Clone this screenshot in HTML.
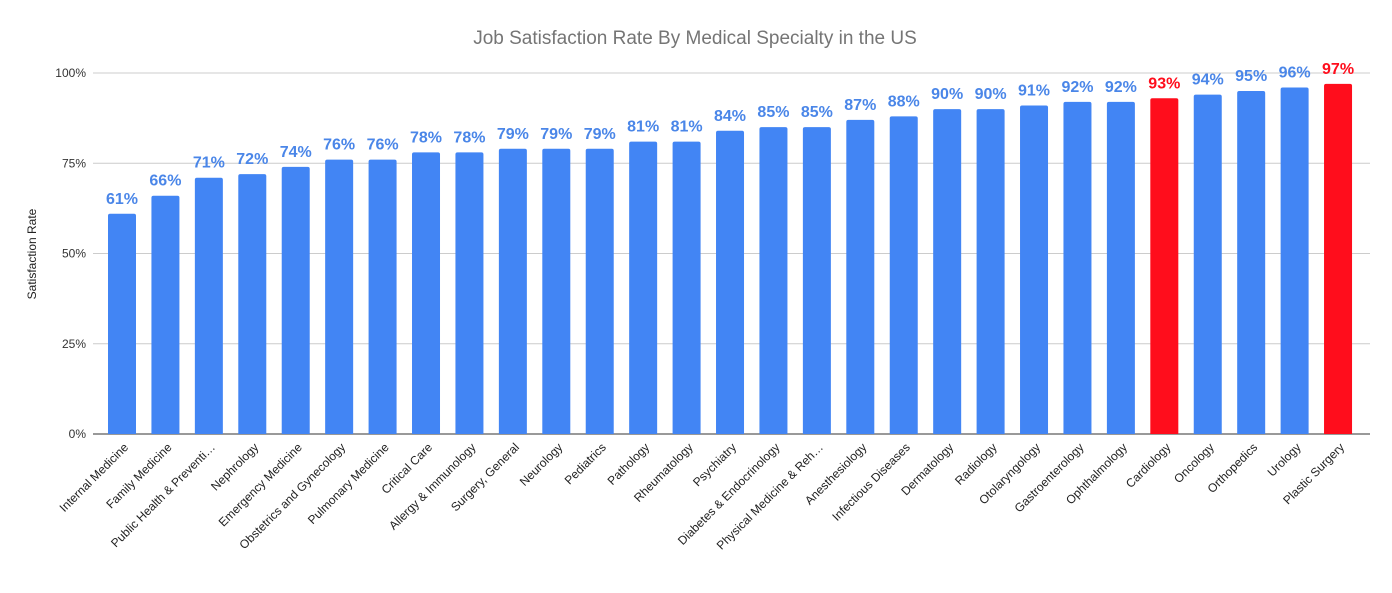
<!DOCTYPE html>
<html><head><meta charset="utf-8"><style>
body{margin:0;background:#fff;font-family:"Liberation Sans",Arial,sans-serif}
</style></head><body>
<svg id="chart" width="1392" height="588" xmlns="http://www.w3.org/2000/svg">
<text x="695" y="44" text-anchor="middle" font-size="19" fill="#757575">Job Satisfaction Rate By Medical Specialty in the US</text>
<text transform="translate(36,254) rotate(-90)" text-anchor="middle" font-size="12" fill="#222">Satisfaction Rate</text>
<g id="grid"></g><g id="bars"></g><g id="labels"></g>
</svg>
<script>
const categories=["Internal Medicine","Family Medicine","Public Health & Preventi…","Nephrology","Emergency Medicine","Obstetrics and Gynecology","Pulmonary Medicine","Critical Care","Allergy & Immunology","Surgery, General","Neurology","Pediatrics","Pathology","Rheumatology","Psychiatry","Diabetes & Endocrinology","Physical Medicine & Reh…","Anesthesiology","Infectious Diseases","Dermatology","Radiology","Otolaryngology","Gastroenterology","Ophthalmology","Cardiology","Oncology","Orthopedics","Urology","Plastic Surgery"];
const values=[61,66,71,72,74,76,76,78,78,79,79,79,81,81,84,85,85,87,88,90,90,91,92,92,93,94,95,96,97];
const highlighted=["Cardiology","Plastic Surgery"];
const yTicks=[0,25,50,75,100];
const yTickLabels=["0%","25%","50%","75%","100%"];
const NS="http://www.w3.org/2000/svg";
const y=v=>434-v*3.61;
const x=i=>122+i*43.43;
function mk(t,a,p){const e=document.createElementNS(NS,t);for(const k in a)e.setAttribute(k,a[k]);p.appendChild(e);return e;}
const grid=document.getElementById('grid'),bars=document.getElementById('bars'),labels=document.getElementById('labels');
yTicks.forEach((t,i)=>{
 const l=mk('line',{x1:93,x2:1370,y1:y(t),y2:y(t),stroke:t===0?'#333':'#ccc','stroke-width':1},grid);
 
 
 const tx=mk('text',{x:86,y:y(t)+4,'text-anchor':'end','font-size':12,fill:'#333'},grid);
 tx.textContent=yTickLabels[i];
 
 
});
categories.forEach((c,i)=>{
 const v=values[i],hl=highlighted.includes(c);
 const cx=x(i),top=y(v),h=y(0)-top;
 const r=mk('path',{d:`M${cx-14},${y(0)} V${top+2} Q${cx-14},${top} ${cx-12},${top} H${cx+12} Q${cx+14},${top} ${cx+14},${top+2} V${y(0)} Z`,fill:hl?'#ff0d1c':'#4285f4'},bars);
 
 
 const vt=mk('text',{x:cx,y:top-10,'text-anchor':'middle','font-size':16,'font-weight':'bold',fill:hl?'#ff0d1c':'#4a86e8'},labels);
 vt.textContent=v+'%';
 
 
 const ct=mk('text',{transform:`translate(${cx+7},${y(0)+14}) rotate(-45)`,'text-anchor':'end','font-size':12,fill:'#222'},labels);
 ct.textContent=c;
 
 
});
</script>
</body></html>
